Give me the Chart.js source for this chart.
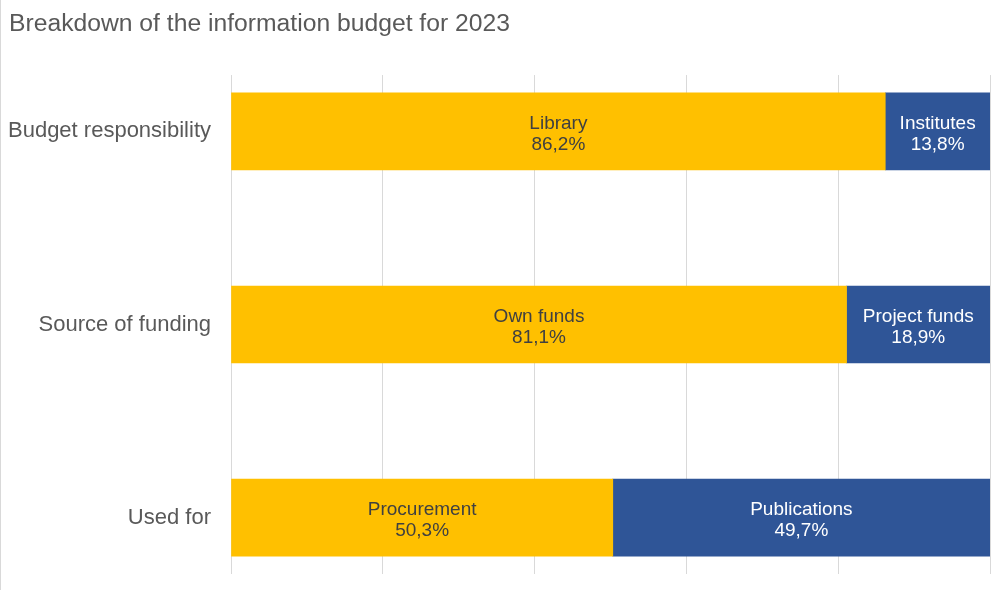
<!DOCTYPE html>
<html>
<head>
<meta charset="utf-8">
<script src="https://cdn.jsdelivr.net/npm/chart.js@4"></script>
<style>
    html, body { margin: 0; padding: 0; background: #fff; }
    #wrap { width: 999px; height: 590px; border-left: 1px solid #d9d9d9; }
</style>
</head>
<body>
<div id="wrap"><canvas id="budgetChart" width="999" height="590"></canvas></div>
<script>
// chart data
const categories = ["Budget responsibility", "Source of funding", "Used for"];
const mainNames = ["Library", "Own funds", "Procurement"];
const mainValues = [86.2, 81.1, 50.3];
const otherNames = ["Institutes", "Project funds", "Publications"];
const otherValues = [13.8, 18.9, 49.7];
const xTicks = [0, 20, 40, 60, 80, 100];

const fontFamily = "'Liberation Sans', Arial, sans-serif";

// labels inside the bars (name + value)
const barLabels = {
    id: "barLabels",
    afterDatasetsDraw(chart) {
        const ctx = chart.ctx;
        chart.data.datasets.forEach((ds, i) => {
            const meta = chart.getDatasetMeta(i);
            meta.data.forEach((bar, j) => {
                const cx = (bar.x + bar.base) / 2;
                const value = ds.data[j].x.toFixed(1).replace(".", ",") + "%";
                ctx.save();
                ctx.font = "19px " + fontFamily;
                ctx.fillStyle = ds.labelColor;
                ctx.textAlign = "center";
                ctx.textBaseline = "middle";
                ctx.fillText(ds.names[j], cx, bar.y - 8);
                ctx.fillText(value, cx, bar.y + 13);
                ctx.restore();
            });
        });
    }
};

new Chart(document.getElementById("budgetChart"), {
    type: "bar",
    data: {
        datasets: [{
            data: mainValues.map((v, i) => ({ x: v, y: i })),
            names: mainNames,
            backgroundColor: "#FFC000",
            labelColor: "#404040",
            barThickness: 77
        }, {
            data: otherValues.map((v, i) => ({ x: v, y: i })),
            names: otherNames,
            backgroundColor: "#2F5597",
            labelColor: "#ffffff",
            barThickness: 77
        }]
    },
    options: {
        indexAxis: "y",
        responsive: false,
        animation: false,
        layout: { padding: { left: 8, right: 10, top: 0, bottom: 16 } },
        plugins: {
            legend: { display: false },
            tooltip: { enabled: false },
            title: {
                display: true,
                text: "Breakdown of the information budget for 2023",
                align: "start",
                color: "#595959",
                font: { family: fontFamily, size: 24.7, weight: "normal" },
                padding: { top: 9, bottom: 36.4 }
            }
        },
        scales: {
            x: {
                type: "linear",
                stacked: true,
                min: xTicks[0],
                max: xTicks[xTicks.length - 1],
                afterBuildTicks: scale => { scale.ticks = xTicks.map(v => ({ value: v })); },
                afterFit: scale => { scale.height = 0; },
                ticks: { display: false },
                grid: { color: "#d9d9d9", drawTicks: false },
                border: { display: false }
            },
            y: {
                type: "linear",
                stacked: true,
                reverse: true,
                offset: false,
                min: -0.292,
                max: categories.length - 1 + 0.292,
                afterBuildTicks: scale => { scale.ticks = categories.map((c, i) => ({ value: i })); },
                afterFit: scale => {
                    scale.width = 222;
                    scale.paddingTop = 0;
                    scale.paddingBottom = 0;
                },
                ticks: {
                    callback: v => categories[v],
                    color: "#595959",
                    padding: 12,
                    font: { family: fontFamily, size: 22 }
                },
                grid: { display: false },
                border: { display: false }
            }
        }
    },
    plugins: [barLabels]
});
</script>
</body>
</html>
